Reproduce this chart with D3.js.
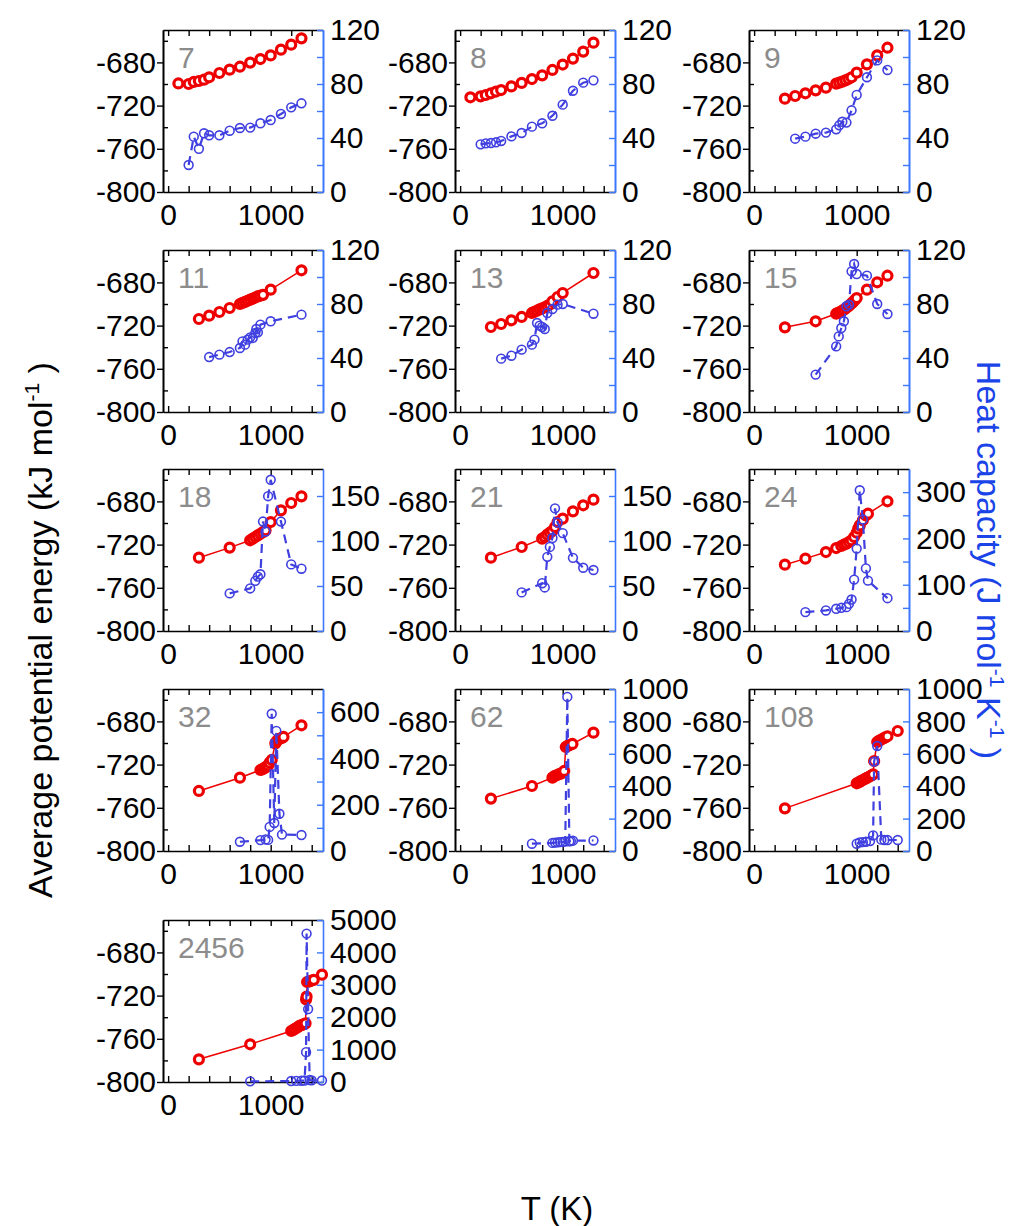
<!DOCTYPE html>
<html><head><meta charset="utf-8">
<script src="https://cdn.jsdelivr.net/npm/d3@7"></script>
<style>
body{margin:0;background:#fff}
text{font-family:Arial,"Liberation Sans",sans-serif}
</style>
</head><body>
<svg id="c" width="1020" height="1226"></svg>
<script>
// ---------- DATA ----------
const panelNames = ["7","8","9","11","13","15","18","21","24","32","62","108","2456"];
const cpMaxes    = [120,120,120,120,120,120,180,180,350,700,1000,1000,5000];
const cpMajor    = [[0,40,80,120],[0,40,80,120],[0,40,80,120],[0,40,80,120],[0,40,80,120],[0,40,80,120],
                    [0,50,100,150],[0,50,100,150],[0,100,200,300],[0,200,400,600],
                    [0,200,400,600,800,1000],[0,200,400,600,800,1000],[0,1000,2000,3000,4000,5000]];
const cpMinor    = [[20,60,100],[20,60,100],[20,60,100],[20,60,100],[20,60,100],[20,60,100],
                    [],[],[50,150,250],[100,300,500],[],[],[]];
const xTickVals  = [0,200,400,600,800,1000,1200,1400];
const xTickLabels = [0,1000];
const eMajor = [-800,-760,-720,-680];
const eMinor = [-780,-740,-700,-660];

const n7T  = [100,200,250,300,350,400,500,600,700,800,900,1000,1100,1200,1300];
const n7E  = [-699.5,-700,-698.1,-697.2,-696,-693.8,-689.8,-686.7,-684,-680.2,-676.9,-673.5,-668.2,-663.6,-657.7];
const n7Tc = [200,250,300,350,400,500,600,700,800,900,1000,1100,1200,1300];
const n7Cp = [20,41,32,43.5,42,42,45.4,47.4,47.7,50.9,53.3,57.8,62.7,65.7];

const n8T  = [100,200,250,300,350,400,500,600,700,800,900,1000,1100,1200,1300];
const n8E  = [-712.3,-711.4,-710.2,-708.6,-707,-705.6,-702.2,-699,-695.4,-692,-687,-682,-676.5,-670,-661.7];
const n8Tc = [200,250,300,350,400,500,600,700,800,900,1000,1100,1200,1300];
const n8Cp = [35.3,36,36.3,36.8,37.8,41.2,43.7,48.4,50.9,56.5,64.7,75,81,82.7];

const n9T  = [300,400,500,600,700,800,830,860,890,920,950,1000,1100,1200,1300];
const n9E  = [-713.6,-711.1,-708.6,-705.9,-703.4,-699.7,-698.8,-697.8,-696.6,-695.4,-693.8,-689.5,-681.8,-673.5,-666.4];
const n9Tc = [400,500,600,700,800,830,860,900,950,1000,1100,1200,1300];
const n9Cp = [39.5,41,43.2,44,46.4,49.4,52,51.4,60.5,71.9,85,97.5,90.4];

const n11T  = [300,400,500,600,700,725,750,775,800,825,850,875,900,925,1000,1300];
const n11E  = [-713.9,-710.8,-707.4,-703.7,-700,-699,-698,-697,-696,-695,-694,-693,-692.3,-691.5,-686.7,-668.8];
const n11Tc = [400,500,600,700,725,750,775,800,825,850,860,875,900,1000,1300];
const n11Cp = [40.7,42.5,44.4,47.4,52.3,49.9,53.6,55.3,54.8,58.5,61.5,59,64.7,67.2,72.1];

const n13T  = [300,400,500,600,700,725,750,775,800,825,850,875,900,950,1000,1300];
const n13E  = [-721.3,-718.5,-715.1,-712,-708.3,-707.2,-706.2,-705,-704,-703,-701.8,-700.5,-697.5,-693.5,-689.8,-671.3];
const n13Tc = [400,500,600,700,725,750,775,800,825,850,900,950,1000,1300];
const n13Cp = [39.5,41.7,46.2,49.9,53.6,65.9,64,63,61.5,73.3,76.3,79.5,80,72.8];

const n15T  = [300,600,800,820,840,860,880,900,920,940,960,980,1000,1100,1200,1300];
const n15E  = [-721.6,-716,-709,-708.2,-707.3,-706.2,-705,-703.5,-702,-700.2,-698.5,-696.5,-694.5,-686.7,-679.9,-673.8];
const n15Tc = [600,800,825,850,875,900,925,950,975,1000,1100,1200,1300];
const n15Cp = [27.7,48.6,56,62.2,67.2,78.3,79.5,104.2,109.6,102.2,101,80,72.6];

const n18T  = [300,600,800,825,850,875,900,925,950,1000,1100,1200,1300];
const n18E  = [-732.1,-722.8,-716,-714.5,-713,-711.5,-710,-708.5,-706.8,-699.1,-688.3,-681.5,-675.3];
const n18Tc = [600,800,850,875,900,925,950,975,1000,1100,1200,1300];
const n18Cp = [41.8,47.3,55.7,60.4,63,121.6,110.6,149.8,168,121.6,74,69.2];

const n21T  = [300,600,800,825,850,875,900,925,950,1000,1100,1200,1300];
const n21E  = [-732.1,-722.2,-714.5,-713,-710.8,-709,-707.4,-703.7,-699.1,-696,-689.2,-683.6,-678.4];
const n21Tc = [600,800,825,850,875,900,925,950,1000,1100,1200,1300];
const n21Cp = [42.9,53.1,48.4,82.4,93.4,103.3,136.3,120.5,108.8,81.3,70.3,67.8];

const n24T  = [300,500,700,800,850,875,900,925,950,975,1000,1015,1030,1060,1090,1110,1300];
const n24E  = [-738.6,-733,-726.9,-723.2,-721.3,-720.1,-719.1,-717.6,-716,-713,-709,-705.2,-702.2,-697.5,-692.9,-691.4,-679.9];
const n24Tc = [500,700,800,850,900,925,950,975,1000,1030,1060,1090,1110,1300];
const n24Cp = [40.8,44.4,48,50.1,51.5,58.7,68,111,178,304,241,135.3,108.8,70.9];

const n32T  = [300,700,900,915,930,945,960,975,990,1010,1045,1060,1075,1090,1110,1125,1300];
const n32E  = [-744.4,-732.1,-725,-724.4,-723.8,-722.8,-721.9,-720.7,-718.2,-715.7,-700.3,-698.1,-696.6,-696,-695.2,-694.4,-683.6];
const n32Tc = [700,900,950,975,990,1010,1035,1055,1085,1110,1300];
const n32Cp = [40,47,50,48,104,593,121,519,161,71,69];

const n62T  = [300,700,900,920,940,960,980,1000,1015,1030,1045,1060,1075,1095,1300];
const n62E  = [-751.5,-739.8,-732.1,-730.6,-729.9,-729,-728.4,-727.5,-725.9,-703.7,-702.8,-702.2,-701.5,-700.9,-690.4];
const n62Tc = [700,900,925,950,975,1000,1025,1045,1065,1080,1100,1300];
const n62Cp = [45,50,52,53,55,56,58,951,60,62,64,65];

const n108T  = [300,1000,1020,1040,1060,1080,1100,1120,1140,1160,1170,1200,1220,1240,1260,1280,1300,1400];
const n108E  = [-760.5,-737.3,-736.4,-735.3,-734.3,-733.3,-732.3,-731.3,-730.3,-729,-716.7,-699.1,-697.8,-696.8,-695.8,-694.8,-693.8,-688.9];
const n108Tc = [1000,1030,1060,1090,1130,1160,1170,1200,1240,1270,1300,1400];
const n108Cp = [45,53,55,57,61,96,552,648,70,68,68,68];

const n2456T  = [300,800,1200,1220,1240,1260,1280,1300,1320,1340,1345,1350,1355,1380,1400,1420,1500];
const n2456E  = [-779,-765.1,-752.8,-751.8,-750.6,-749.5,-748.1,-747.3,-746.6,-745.7,-723.5,-721,-707.4,-706.8,-706,-705.4,-700.6];
const n2456Tc = [800,1200,1250,1300,1330,1345,1350,1365,1380,1400,1500];
const n2456Cp = [20,30,35,40,45,920,4580,2250,60,50,45];

const energyT  = [n7T,n8T,n9T,n11T,n13T,n15T,n18T,n21T,n24T,n32T,n62T,n108T,n2456T];
const energyV  = [n7E,n8E,n9E,n11E,n13E,n15E,n18E,n21E,n24E,n32E,n62E,n108E,n2456E];
const heatT    = [n7Tc,n8Tc,n9Tc,n11Tc,n13Tc,n15Tc,n18Tc,n21Tc,n24Tc,n32Tc,n62Tc,n108Tc,n2456Tc];
const heatV    = [n7Cp,n8Cp,n9Cp,n11Cp,n13Cp,n15Cp,n18Cp,n21Cp,n24Cp,n32Cp,n62Cp,n108Cp,n2456Cp];

// ---------- LAYOUT / STYLE ----------
const svg = d3.select("#c");
const W = 160, H = 162;
const colX = [163, 455, 749];
const rowY = [30, 250, 469, 689, 920];
const FS = 30;
const RED = "#ee0000", BLUE = "#4040e0", AXBLUE = "#3c78ff";
const fmt = d => String(d);

function styleAxis(g, color, textColor) {
  g.selectAll(".domain").attr("stroke", color).attr("stroke-width", 1.6);
  g.selectAll(".tick line").attr("stroke", color).attr("stroke-width", 1.4);
  g.selectAll(".tick text").attr("fill", textColor).style("font-size", FS + "px")
    .style("font-family", "Arial, 'Liberation Sans', sans-serif");
}

panelNames.forEach((name, i) => {
  const left = colX[i % 3], top = rowY[Math.floor(i / 3)];
  const x = d3.scaleLinear().domain([-50, 1510]).range([left, left + W]);
  const y = d3.scaleLinear().domain([-800, -650]).range([top + H, top]);
  const y2 = d3.scaleLinear().domain([0, cpMaxes[i]]).range([top + H, top]);
  const g = svg.append("g");

  g.append("g").attr("transform", `translate(0,${top})`)
    .call(d3.axisTop(x).tickValues(xTickVals).tickSize(-6).tickSizeOuter(0).tickFormat(""))
    .call(a => styleAxis(a, "#000", "#000"));
  g.append("g").attr("transform", `translate(0,${top + H})`)
    .call(d3.axisBottom(x).tickValues(xTickVals).tickSize(-6).tickSizeOuter(0).tickPadding(12)
      .tickFormat(d => xTickLabels.includes(d) ? fmt(d) : ""))
    .call(a => styleAxis(a, "#000", "#000"));
  g.append("g").attr("transform", `translate(${left},0)`)
    .call(d3.axisLeft(y).tickValues(eMajor).tickSize(6).tickSizeOuter(0).tickPadding(1).tickFormat(fmt))
    .call(a => styleAxis(a, "#000", "#000"));
  g.append("g").attr("transform", `translate(${left},0)`)
    .call(d3.axisLeft(y).tickValues(eMinor).tickSize(-5).tickSizeOuter(0).tickFormat(""))
    .call(a => styleAxis(a, "#000", "#000"));
  g.append("g").attr("transform", `translate(${left + W},0)`)
    .call(d3.axisRight(y2).tickValues(cpMajor[i]).tickSize(-6).tickSizeOuter(0).tickPadding(7).tickFormat(fmt))
    .call(a => styleAxis(a, AXBLUE, "#000"));
  if (cpMinor[i].length)
    g.append("g").attr("transform", `translate(${left + W},0)`)
      .call(d3.axisRight(y2).tickValues(cpMinor[i]).tickSize(-6).tickSizeOuter(0).tickFormat(""))
      .call(a => styleAxis(a, AXBLUE, "#000"));

  const eData = energyT[i].map((t, k) => [t, energyV[i][k]]);
  g.append("path").datum(eData)
    .attr("d", d3.line().x(d => x(d[0])).y(d => y(d[1])))
    .attr("fill", "none").attr("stroke", RED).attr("stroke-width", 1.5);
  g.selectAll(".ep").data(eData).join("circle").attr("class", "ep")
    .attr("cx", d => x(d[0])).attr("cy", d => y(d[1])).attr("r", 4.5)
    .attr("fill", "#fff").attr("stroke", RED).attr("stroke-width", 3.2);

  const cData = heatT[i].map((t, k) => [t, heatV[i][k]]);
  g.append("path").datum(cData)
    .attr("d", d3.line().x(d => x(d[0])).y(d => y2(d[1])))
    .attr("fill", "none").attr("stroke", BLUE).attr("stroke-width", 2.2)
    .attr("stroke-dasharray", "9,6");
  g.selectAll(".cp").data(cData).join("circle").attr("class", "cp")
    .attr("cx", d => x(d[0])).attr("cy", d => y2(d[1])).attr("r", 4.4)
    .attr("fill", "none").attr("stroke", BLUE).attr("stroke-width", 1.6);

  g.append("text").attr("x", left + 15).attr("y", top + 38)
    .attr("fill", "#8c8c8c").style("font-size", FS + "px").text(name);
});

const yl = svg.append("text").attr("transform", "translate(52,630) rotate(-90)")
  .attr("text-anchor", "middle").style("font-size", "34px").attr("fill", "#000");
yl.append("tspan").text("Average potential energy (kJ mol");
yl.append("tspan").attr("dy", -13).style("font-size", "21px").text("-1");
yl.append("tspan").attr("dy", 13).text(" )");

const yr = svg.append("text").attr("transform", "translate(977,560) rotate(90)")
  .attr("text-anchor", "middle").style("font-size", "34px").attr("fill", "#1a44e8");
yr.append("tspan").text("Heat capacity (J mol");
yr.append("tspan").attr("dy", -13).style("font-size", "21px").text("-1");
yr.append("tspan").attr("dy", 13).text(" K");
yr.append("tspan").attr("dy", -13).style("font-size", "21px").text("-1");
yr.append("tspan").attr("dy", 13).text(" )");

svg.append("text").attr("x", 557).attr("y", 1220).attr("text-anchor", "middle")
  .style("font-size", "33px").attr("fill", "#000").text("T (K)");
</script>
</body></html>
